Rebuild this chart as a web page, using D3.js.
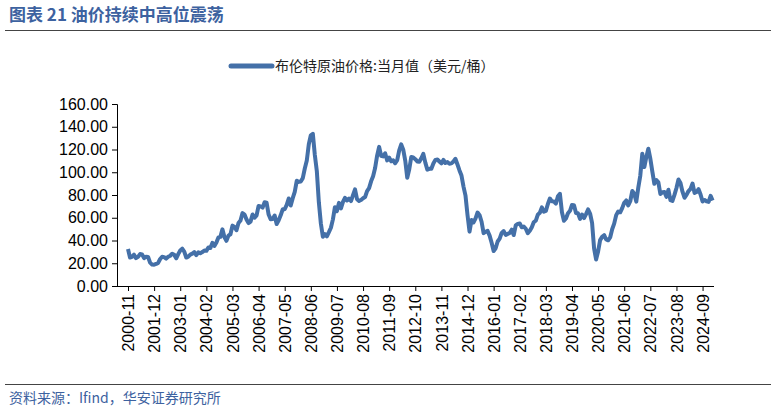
<!DOCTYPE html>
<html><head><meta charset="utf-8">
<script src="https://cdn.jsdelivr.net/npm/d3@7"></script>
<style>body{margin:0;background:#fff}</style>
</head><body>
<svg id="c" width="776" height="413"></svg>
<script>
// monthly Brent, 2000-11 .. 2025-02
const startYear = 2000, startMonth = 11;
const prices = [
  32.5,25.0,
  25.6,27.5,24.5,25.6,28.1,27.8,24.5,25.7,25.5,20.5,18.8,18.7,
  19.4,20.3,23.7,25.7,25.4,24.1,25.7,26.6,28.4,27.5,24.3,28.0,
  31.2,32.8,30.3,25.0,25.8,27.6,28.4,29.8,27.1,29.6,28.8,29.8,
  31.2,30.9,33.8,33.4,37.9,35.2,38.2,42.7,43.2,49.8,43.1,39.7,
  44.3,45.5,53.1,51.9,49.0,55.4,57.6,64.1,62.8,58.5,55.3,56.6,
  62.9,60.0,62.1,70.4,70.0,68.9,73.6,73.2,62.8,58.7,58.9,62.0,
  54.5,57.8,62.1,67.4,67.5,71.3,76.9,70.8,77.2,82.8,92.5,91.5,
  91.9,94.8,103.3,110.4,124.6,132.5,133.8,115.2,100.8,73.6,55.0,43.3,
  45.6,43.7,47.3,51.2,58.6,69.3,65.8,73.1,68.2,73.9,77.5,75.2,
  76.9,74.7,79.9,84.9,76.3,74.8,75.6,77.1,78.2,83.5,86.1,92.0,
  96.5,103.7,114.6,122.3,114.5,113.9,116.7,110.4,112.8,109.6,110.5,107.9,
  110.7,119.3,124.5,119.8,110.3,95.2,102.6,113.4,113.0,111.5,109.5,109.2,
  112.3,116.1,108.5,102.3,103.0,103.1,107.7,110.9,111.2,109.5,107.8,110.8,
  108.1,108.9,107.5,107.8,109.5,111.8,106.8,101.6,97.1,87.4,79.4,62.3,
  47.8,58.1,55.9,59.5,64.6,62.3,56.5,46.5,47.6,48.4,44.3,38.0,
  30.8,33.2,39.1,41.6,46.7,48.3,44.9,45.8,46.6,49.5,44.8,53.3,
  54.6,55.0,51.6,52.3,50.3,46.4,48.5,51.7,56.2,57.4,62.7,64.4,
  69.1,65.3,66.0,72.1,76.9,74.4,74.3,72.5,78.9,81.0,64.8,57.4,
  59.4,64.0,66.1,71.2,71.1,64.2,63.9,59.0,62.8,59.7,63.2,67.3,
  63.7,55.5,33.0,23.3,30.4,40.3,43.2,44.7,40.9,40.2,42.7,49.9,
  54.8,62.3,65.4,64.8,68.5,73.2,75.2,70.8,74.5,83.5,81.1,74.2,
  86.5,97.1,116.3,104.6,113.3,120.7,111.9,100.5,89.8,93.1,91.1,80.9,
  82.5,82.6,78.4,84.6,75.5,74.8,80.1,86.2,93.7,90.6,82.9,77.6,
  80.1,83.5,85.4,90.1,81.8,82.6,85.2,80.4,74.3,75.6,74.4,73.9,
  79.2,75.1
];
const months = prices.map((_, i) => {
  const m = startMonth - 1 + i;
  return `${startYear + Math.floor(m / 12)}-${String(m % 12 + 1).padStart(2, "0")}`;
});
const yTicks = [0, 20, 40, 60, 80, 100, 120, 140, 160];
const title = "图表 21 油价持续中高位震荡";
const legendLabel = "布伦特原油价格:当月值（美元/桶）";
const source = "资料来源：Ifind，华安证券研究所";

const svg = d3.select("#c");
const blue = "#4470a8";

svg.append("text").attr("x", 9).attr("y", 21).attr("fill", "#3d62a0")
  .attr("font-family", "Noto Sans CJK SC").attr("font-weight", "bold").attr("font-size", 17)
  .text(title);
svg.append("line").attr("x1", 5).attr("x2", 771).attr("y1", 30.5).attr("y2", 30.5)
  .attr("stroke", "#444").attr("stroke-width", 1);

// legend
svg.append("line").attr("x1", 231).attr("x2", 272).attr("y1", 66).attr("y2", 66)
  .attr("stroke", blue).attr("stroke-width", 5).attr("stroke-linecap", "round");
svg.append("text").attr("x", 275).attr("y", 71).attr("font-family", "Noto Sans CJK SC")
  .attr("font-size", 14).attr("fill", "#222").text(legendLabel);

const x = d3.scalePoint().domain(months).range([128, 128 + 2.009 * (months.length - 1)]);
const y = d3.scaleLinear().domain([0, 160]).range([286, 104]);

const yAxis = svg.append("g").attr("transform", "translate(117,0)")
  .call(d3.axisLeft(y).tickValues(yTicks).tickFormat(d3.format(".2f")).tickSize(5));
yAxis.selectAll("text").attr("font-family", "Liberation Sans").attr("font-size", 16).attr("fill", "#000").attr("x", -9);

const tickMonths = months.filter((_, i) => i % 13 === 0);
const xAxis = svg.append("g").attr("transform", "translate(0,286)")
  .call(d3.axisBottom(x).tickValues(tickMonths).tickSize(5).tickSizeOuter(0));
xAxis.select(".domain").attr("d", `M117,0.5H714`);
xAxis.selectAll("text").attr("font-family", "Liberation Sans").attr("font-size", 16).attr("fill", "#000")
  .attr("transform", "rotate(-90)").attr("text-anchor", "end").attr("x", -8).attr("y", 0).attr("dy", "0.35em");
svg.selectAll(".domain, .tick line").attr("stroke", "#000");

svg.append("path").datum(prices)
  .attr("fill", "none").attr("stroke", blue).attr("stroke-width", 4).attr("stroke-linejoin", "round")
  .attr("d", d3.line().x((d, i) => x(months[i])).y(d => y(d)));

svg.append("line").attr("x1", 5).attr("x2", 771).attr("y1", 384.5).attr("y2", 384.5)
  .attr("stroke", "#444").attr("stroke-width", 1);
svg.append("text").attr("x", 9).attr("y", 403).attr("font-family", "Noto Sans CJK SC")
  .attr("font-size", 14).attr("fill", "#3d62a0").text(source);
</script>
</body></html>
